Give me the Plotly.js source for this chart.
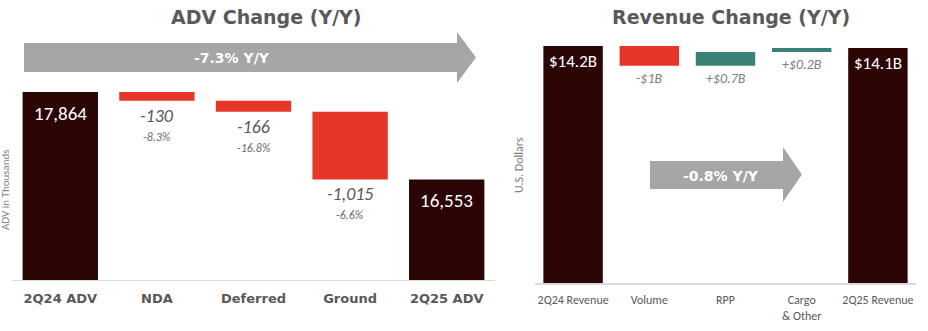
<!DOCTYPE html>
<html>
<head>
<meta charset="utf-8">
<script src="https://cdn.plot.ly/plotly-3.0.1.min.js"></script>
<style>
  html, body { margin: 0; padding: 0; background: #ffffff; }
  #chart { width: 928px; height: 331px; }
</style>
</head>
<body>
<div id="chart"></div>
<script>
// ---------- DATA ----------
const advCategories = ['2Q24 ADV', 'NDA', 'Deferred', 'Ground', '2Q25 ADV'];
const advMeasures   = ['absolute', 'relative', 'relative', 'relative', 'total'];
const advValues     = [17864, -130, -166, -1015, 16553];
const advLabels     = ['17,864', '-130', '-166', '-1,015', '16,553'];
const advPctLabels  = ['', '-8.3%', '-16.8%', '-6.6%', ''];
const advSummary    = '-7.3% Y/Y';

const revCategories = ['2Q24 Revenue', 'Volume', 'RPP', 'Cargo<br>& Other', '2Q25 Revenue'];
const revMeasures   = ['absolute', 'relative', 'relative', 'relative', 'total'];
const revValues     = [14.2, -1, 0.7, 0.2, 14.1];
const revLabels     = ['$14.2B', '-$1B', '+$0.7B', '+$0.2B', '$14.1B'];
const revSummary    = '-0.8% Y/Y';

// ---------- STYLE ----------
const W = 928, H = 331;
const DARK = '#2b0404', RED = '#e8352a', TEAL = '#3b8077', ARROW = '#a6a6a6';
const TITLE_FONT = 'DejaVu Sans, Verdana, sans-serif';
const BODY_FONT = 'Carlito, Lato, sans-serif';
const px = x => x / W;
const py = y => 1 - y / H;

function arrowPath(pts) {
  return 'M ' + pts.map(p => px(p[0]).toFixed(5) + ' ' + py(p[1]).toFixed(5)).join(' L ') + ' Z';
}

function waterfallTrace(cats, measures, values, xa, ya, incColor) {
  return {
    type: 'waterfall',
    x: cats, y: values, measure: measures,
    xaxis: xa, yaxis: ya,
    width: 0.78,
    connector: { visible: false },
    decreasing: { marker: { color: RED, line: { width: 0 } } },
    increasing: { marker: { color: incColor, line: { width: 0 } } },
    totals: { marker: { color: DARK, line: { width: 0 } } },
    textinfo: 'none',
    hoverinfo: 'skip',
    showlegend: false
  };
}

function buildLabels(cats, measures, values, labels, pcts, xa, ya, opts) {
  const anns = [];
  let cum = 0;
  for (let i = 0; i < cats.length; i++) {
    const m = measures[i];
    if (m === 'absolute' || m === 'total') {
      if (m === 'absolute') cum = values[i];
      anns.push({
        xref: xa, yref: ya, x: cats[i], y: cum, yanchor: 'top', yshift: opts.totalShift,
        text: labels[i], showarrow: false,
        font: { family: BODY_FONT, size: opts.totalSize, color: '#ffffff' }
      });
    } else {
      const before = cum;
      cum = cum + values[i];
      const low = Math.min(before, cum);
      anns.push({
        xref: xa, yref: ya, x: cats[i], y: low, yanchor: 'top', yshift: opts.valShift,
        text: '<i>' + labels[i] + '</i>', showarrow: false,
        font: { family: BODY_FONT, size: opts.valSize, color: opts.valColor }
      });
      if (pcts && pcts[i]) {
        anns.push({
          xref: xa, yref: ya, x: cats[i], y: low, yanchor: 'top', yshift: opts.pctShift,
          text: '<i>' + pcts[i] + '</i>', showarrow: false,
          font: { family: BODY_FONT, size: 12, color: '#6f6f6f' }
        });
      }
    }
  }
  return anns;
}

const traces = [
  waterfallTrace(advCategories, advMeasures, advValues, 'x', 'y', TEAL),
  waterfallTrace(revCategories, revMeasures, revValues, 'x2', 'y2', TEAL)
];

let annotations = [];
annotations = annotations.concat(buildLabels(advCategories, advMeasures, advValues, advLabels, advPctLabels, 'x', 'y',
  { totalShift: -8, totalSize: 19, valShift: -2, valSize: 18, valColor: '#595959', pctShift: -27 }));
annotations = annotations.concat(buildLabels(revCategories, revMeasures, revValues, revLabels, null, 'x2', 'y2',
  { totalShift: -3, totalSize: 17, valShift: -2, valSize: 14, valColor: '#808080' }));

// titles
annotations.push({ xref: 'paper', yref: 'paper', x: px(266), y: py(17), xanchor: 'center', yanchor: 'middle',
  text: '<b>ADV Change (Y/Y)</b>', showarrow: false, font: { family: TITLE_FONT, size: 19, color: '#595959' } });
annotations.push({ xref: 'paper', yref: 'paper', x: px(731), y: py(17), xanchor: 'center', yanchor: 'middle',
  text: '<b>Revenue Change (Y/Y)</b>', showarrow: false, font: { family: TITLE_FONT, size: 19, color: '#595959' } });
// arrow texts
annotations.push({ xref: 'paper', yref: 'paper', x: px(232), y: py(58), xanchor: 'center', yanchor: 'middle',
  text: '<b>' + advSummary + '</b>', showarrow: false, font: { family: TITLE_FONT, size: 14, color: '#ffffff' } });
annotations.push({ xref: 'paper', yref: 'paper', x: px(721), y: py(176), xanchor: 'center', yanchor: 'middle',
  text: '<b>' + revSummary + '</b>', showarrow: false, font: { family: TITLE_FONT, size: 14, color: '#ffffff' } });
// y-axis titles
annotations.push({ xref: 'paper', yref: 'paper', x: px(5), y: py(190), xanchor: 'center', yanchor: 'middle',
  text: 'ADV in Thousands', textangle: -90, showarrow: false, font: { family: BODY_FONT, size: 11, color: '#7f7f7f' } });
annotations.push({ xref: 'paper', yref: 'paper', x: px(519), y: py(165), xanchor: 'center', yanchor: 'middle',
  text: 'U.S. Dollars', textangle: -90, showarrow: false, font: { family: BODY_FONT, size: 12, color: '#7f7f7f' } });

const shapes = [
  { type: 'path', xref: 'paper', yref: 'paper', fillcolor: ARROW, line: { width: 0 }, layer: 'below',
    path: arrowPath([[24, 43], [457, 43], [457, 32], [476, 57.5], [457, 83], [457, 72], [24, 72]]) },
  { type: 'path', xref: 'paper', yref: 'paper', fillcolor: ARROW, line: { width: 0 }, layer: 'above',
    path: arrowPath([[650, 161], [783, 161], [783, 147], [802, 174.5], [783, 202], [783, 189], [650, 189]]) }
];

const layout = {
  width: W, height: H,
  margin: { l: 0, r: 0, t: 0, b: 0 },
  paper_bgcolor: '#ffffff', plot_bgcolor: 'rgba(0,0,0,0)',
  showlegend: false,
  hovermode: false,
  xaxis: {
    domain: [px(12), px(495)], anchor: 'y', type: 'category',
    showline: true, linecolor: '#d9d9d9', linewidth: 1, ticks: '', showgrid: false, zeroline: false,
    tickfont: { family: TITLE_FONT, size: 13, color: '#595959', weight: 'bold' },
    ticklabelstandoff: 6, fixedrange: true
  },
  yaxis: {
    domain: [py(280), py(85)], anchor: 'x', range: [15044, 17969],
    showgrid: false, zeroline: false, showticklabels: false, showline: false, fixedrange: true
  },
  xaxis2: {
    domain: [px(535), px(916)], anchor: 'y2', type: 'category',
    showline: true, linecolor: '#d9d9d9', linewidth: 2, ticks: '', showgrid: false, zeroline: false,
    tickfont: { family: BODY_FONT, size: 12, color: '#595959' },
    ticklabelstandoff: 5, fixedrange: true
  },
  yaxis2: {
    domain: [py(283), py(40)], anchor: 'x2', range: [2.17, 14.505],
    showgrid: false, zeroline: false, showticklabels: false, showline: false, fixedrange: true
  },
  annotations: annotations,
  shapes: shapes
};

Plotly.newPlot('chart', traces, layout, { displayModeBar: false, staticPlot: true });
</script>
</body>
</html>
